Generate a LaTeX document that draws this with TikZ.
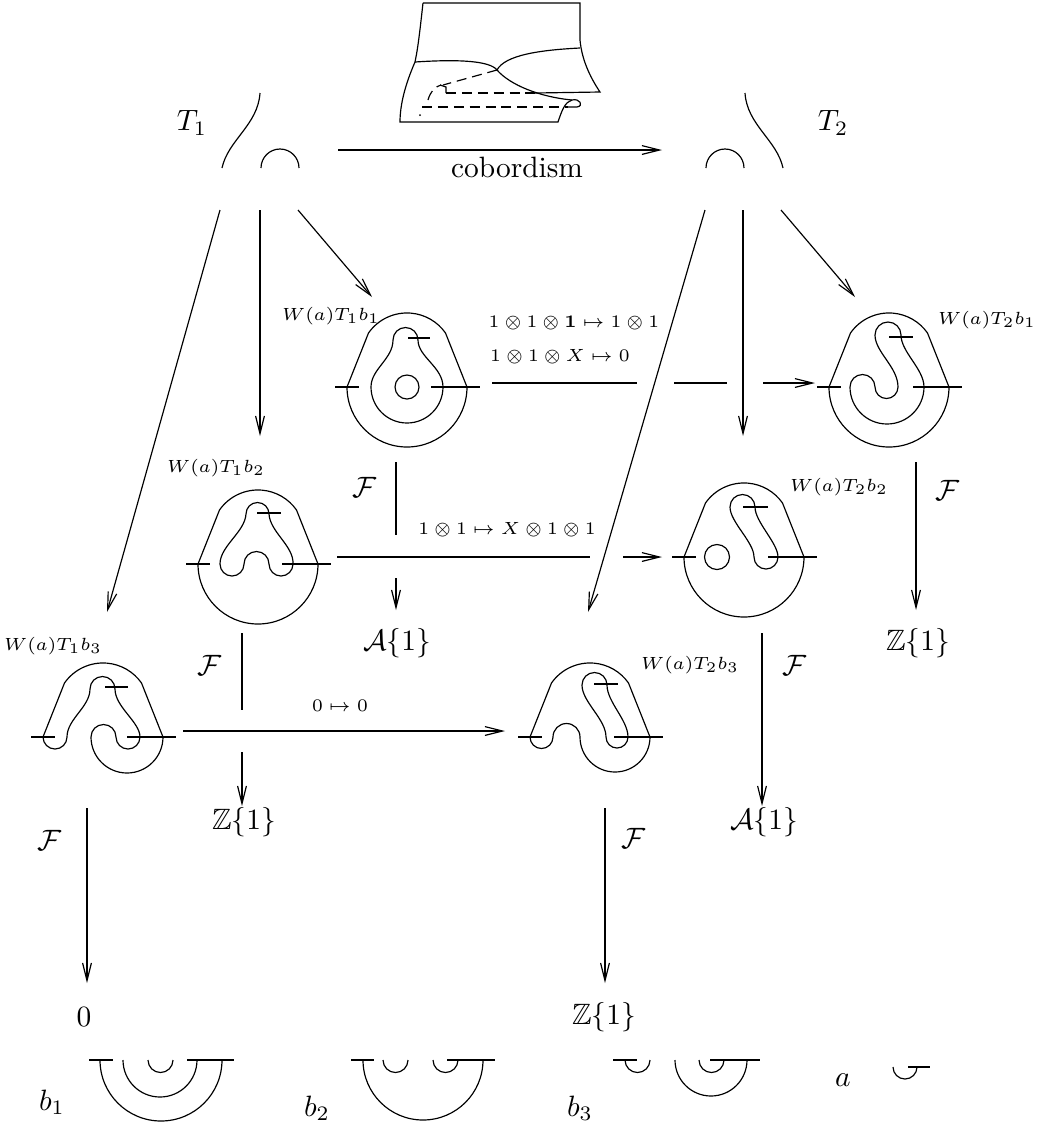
\documentclass[tikz,border=0pt]{standalone}
\usepackage{amsmath}
\usepackage{amssymb}
\usepackage{tikz}
\usetikzlibrary{arrows.meta}

\begin{document}
\begin{tikzpicture}[
    x=0.34pt, y=-0.34pt,
    line width=0.4pt,
    arrow/.style={-{Straight Barb[length=6pt,width=3pt]}},
    hidden/.style={dash pattern=on 3.4pt off 2pt},
    wlabel/.style={font=\fontsize{6}{7}\selectfont, inner sep=0pt},
    maplabel/.style={font=\fontsize{6}{7}\selectfont, inner sep=0pt},
    result/.style={inner sep=1pt},
    wframe/.pic={
        \draw (-60,0) -- (-38.5,-54) arc[start angle=215, end angle=325, radius=47] -- (60,0);
        \draw (-72,0) -- (-48,0);
        \draw (24,0) -- (73,0);
    }
]
\useasboundingbox (0,0) rectangle (1039,1125);

% tangles T1 and T2
\node (T1) at (192,123) {$T_1$};
\node (T2) at (833,123) {$T_2$};
\draw (222,168) .. controls (228,140) and (258,125) .. (260,93);
\draw (261,168) arc[start angle=180, end angle=360, radius=19];
\draw (745,93) .. controls (747,125) and (777,140) .. (783,168);
\draw (706,168) arc[start angle=180, end angle=360, radius=19];

% saddle cobordism
\draw (423,3) -- (580,3) -- (580,40) .. controls (582,62) and (592,80) .. (600,92) -- (535,93);
\draw (423,3) .. controls (420,30) and (418,48) .. (415,62);
\draw (415,62) .. controls (460,59) and (490,61) .. (497,70);
\draw (497,70) .. controls (505,55) and (540,50) .. (580,48);
\draw (497,70) .. controls (510,85) and (540,97) .. (572,100);
\draw (415,62) .. controls (405,85) and (400,105) .. (400,122) -- (558,122)
    .. controls (562,110) and (565,102) .. (572,100)
    .. controls (580,98) and (584,106) .. (577,107) -- (568,107);
\draw[hidden] (497,70) -- (443,85);
\draw (440,85) -- (446,87) -- (446,93);
\draw[hidden] (446,93) -- (535,93);
\draw[hidden] (428,100) .. controls (430,92) and (436,86) .. (441,85);
\draw[hidden] (422,107) -- (568,107);
\fill (420,115) circle (1);

\coordinate (cobs) at (338,150);
\coordinate (cobe) at (662,150);
\draw[arrow] (cobs) -- (cobe);
\node (cob) at (517,167) {cobordism};

% arrows out of T1 and T2
\coordinate (t1a) at (220,210); \coordinate (w13in) at (107,612);
\coordinate (t1b) at (260,210); \coordinate (t1end) at (260,436);
\coordinate (t1c) at (298,210); \coordinate (w11in) at (372,297);
\coordinate (t2a) at (705,210); \coordinate (w23in) at (588,612);
\coordinate (t2b) at (743,210); \coordinate (t2end) at (743,436);
\coordinate (t2c) at (781,210); \coordinate (w21in) at (855,297);
\draw[arrow] (t1a) -- (w13in);
\draw[arrow] (t1b) -- (t1end);
\draw[arrow] (t1c) -- (w11in);
\draw[arrow] (t2a) -- (w23in);
\draw[arrow] (t2b) -- (t2end);
\draw[arrow] (t2c) -- (w21in);

% W(a)T1b1
\begin{scope}[shift={(407,387)}]
\pic {wframe};
\draw (60,0) arc[start angle=0, end angle=180, radius=60];
\draw (36,0) arc[start angle=0, end angle=180, radius=36]
    .. controls (-36,-18) and (-14,-28) .. (-14,-47)
    arc[start angle=180, end angle=360, radius=12.5]
    .. controls (11,-30) and (36,-20) .. (36,0);
\draw (0,0) circle (12);
\draw (1,-49) -- (23,-49);
\end{scope}
\node[wlabel] (w11) at (331,316) {$W(a)T_1b_1$};

% W(a)T2b1
\begin{scope}[shift={(889,387)}]
\pic {wframe};
\draw (60,0) arc[start angle=0, end angle=180, radius=60];
\draw (-39,0) arc[start angle=180, end angle=0, radius=37]
    .. controls (35,-18) and (12,-35) .. (12,-52)
    arc[start angle=0, end angle=-180, radius=13]
    .. controls (-14,-35) and (9,-20) .. (9,0)
    arc[start angle=0, end angle=180, radius=11.5]
    arc[start angle=0, end angle=-180, radius=12.5];
\draw (0,-50) -- (24,-50);
\end{scope}
\node[wlabel] (w21) at (987,320) {$W(a)T_2b_1$};

% W(a)T1b2
\begin{scope}[shift={(258,564)}]
\pic {wframe};
\draw (60,0) arc[start angle=0, end angle=180, radius=60];
\draw (-38,0) arc[start angle=180, end angle=0, radius=12]
    arc[start angle=180, end angle=360, radius=12.5]
    arc[start angle=180, end angle=0, radius=12]
    .. controls (36,-18) and (12,-32) .. (11,-50)
    arc[start angle=0, end angle=-180, radius=11.5]
    .. controls (-13,-32) and (-38,-18) .. (-38,0);
\draw (-1,-51) -- (23,-51);
\end{scope}
\node[wlabel] (w12) at (216,468) {$W(a)T_1b_2$};

% W(a)T2b2
\begin{scope}[shift={(744,557)}]
\pic {wframe};
\draw (60,0) arc[start angle=0, end angle=180, radius=60];
\draw (-27,0) circle (12.5);
\draw (10,0) arc[start angle=180, end angle=0, radius=12]
    .. controls (34,-14) and (11,-35) .. (11,-50)
    arc[start angle=0, end angle=-180, radius=12.5]
    .. controls (-14,-35) and (10,-15) .. (10,0);
\draw (-1,-50) -- (24,-50);
\end{scope}
\node[wlabel] (w22) at (839,487) {$W(a)T_2b_2$};

% W(a)T1b3
\begin{scope}[shift={(103,737)}]
\pic {wframe};
\draw (60,0) arc[start angle=0, end angle=180, radius=36]
    arc[start angle=180, end angle=360, radius=12.5]
    arc[start angle=180, end angle=0, radius=12]
    .. controls (37,-15) and (12,-30) .. (12,-48)
    arc[start angle=0, end angle=-180, radius=12.5]
    .. controls (-13,-30) and (-36,-18) .. (-36,0)
    arc[start angle=0, end angle=180, radius=12];
\draw (2,-50) -- (25,-50);
\end{scope}
\node[wlabel] (w13) at (53,646) {$W(a)T_1b_3$};

% W(a)T2b3
\begin{scope}[shift={(590,737)}]
\pic {wframe};
\draw (60,0) arc[start angle=0, end angle=180, radius=35]
    arc[start angle=0, end angle=-180, radius=13.5]
    arc[start angle=0, end angle=180, radius=11.5];
\draw (16,0) arc[start angle=180, end angle=0, radius=11]
    .. controls (38,-17) and (17,-35) .. (17,-52)
    arc[start angle=0, end angle=-180, radius=12.5]
    .. controls (-8,-35) and (16,-18) .. (16,0);
\draw (4,-53) -- (28,-53);
\end{scope}
\node[wlabel] (w23) at (690,665) {$W(a)T_2b_3$};

% maps between the diagrams
\coordinate (h1a) at (492,383); \coordinate (h1b) at (637,383);
\coordinate (h1c) at (674,383); \coordinate (h1d) at (727,383);
\coordinate (h1e) at (763,383); \coordinate (h1f) at (815,383);
\draw (h1a) -- (h1b);
\draw (h1c) -- (h1d);
\draw[arrow] (h1e) -- (h1f);
\node[maplabel] (m1) at (574,323) {$1\otimes 1\otimes \mathbf{1}\mapsto 1\otimes 1$};
\node[maplabel] (m2) at (560,357) {$1\otimes 1\otimes X\mapsto 0$};

\coordinate (h2a) at (337,557); \coordinate (h2b) at (590,557);
\coordinate (h2c) at (623,557); \coordinate (h2d) at (662,557);
\draw (h2a) -- (h2b);
\draw[arrow] (h2c) -- (h2d);
\node[maplabel] (m3) at (507,530) {$1\otimes 1\mapsto X\otimes 1\otimes 1$};

\coordinate (h3a) at (183,731); \coordinate (h3b) at (505,731);
\draw[arrow] (h3a) -- (h3b);
\node[maplabel] (m4) at (340,706) {$0\mapsto 0$};

% the functor F
\coordinate (f1a) at (396,462); \coordinate (f1b) at (396,535);
\coordinate (f1c) at (396,578); \coordinate (f1d) at (396,610);
\draw (f1a) -- (f1b);
\draw[arrow] (f1c) -- (f1d);
\node (F1) at (365,487) {$\mathcal{F}$};
\node[result] (r1) at (397,643) {$\mathcal{A}\{1\}$};

\coordinate (f2a) at (916,462); \coordinate (f2b) at (916,610);
\draw[arrow] (f2a) -- (f2b);
\node (F2) at (948,490) {$\mathcal{F}$};
\node[result] (r2) at (918,643) {$\mathbb{Z}\{1\}$};

\coordinate (f3a) at (242,633); \coordinate (f3b) at (242,710);
\coordinate (f3c) at (242,752); \coordinate (f3d) at (242,806);
\draw (f3a) -- (f3b);
\draw[arrow] (f3c) -- (f3d);
\node (F3) at (210,665) {$\mathcal{F}$};
\node[result] (r3) at (244,822) {$\mathbb{Z}\{1\}$};

\coordinate (f4a) at (762,633); \coordinate (f4b) at (762,806);
\draw[arrow] (f4a) -- (f4b);
\node (F4) at (795,665) {$\mathcal{F}$};
\node[result] (r4) at (764,822) {$\mathcal{A}\{1\}$};

\coordinate (f5a) at (87,808); \coordinate (f5b) at (87,983);
\draw[arrow] (f5a) -- (f5b);
\node (F5) at (50,840) {$\mathcal{F}$};
\node[result] (r5) at (84,1017) {$0$};

\coordinate (f6a) at (605,808); \coordinate (f6b) at (605,983);
\draw[arrow] (f6a) -- (f6b);
\node (F6) at (634,838) {$\mathcal{F}$};
\node[result] (r6) at (604,1017) {$\mathbb{Z}\{1\}$};

% the crossingless matchings b1, b2, b3 and a
\node (b1) at (52,1102) {$b_1$};
\draw (89,1060) -- (113,1060);
\draw (187,1060) -- (234,1060);
\draw (100,1060) arc[start angle=180, end angle=0, radius=61];
\draw (123,1060) arc[start angle=180, end angle=0, radius=37];
\draw (148,1060) arc[start angle=180, end angle=0, radius=12.5];

\node (b2) at (317,1108) {$b_2$};
\draw (351,1060) -- (374,1060);
\draw (447,1060) -- (495,1060);
\draw (363,1060) arc[start angle=180, end angle=0, radius=60];
\draw (383,1060) arc[start angle=180, end angle=0, radius=12.5];
\draw (433,1060) arc[start angle=180, end angle=0, radius=12.5];

\node (b3) at (580,1108) {$b_3$};
\draw (613,1060) -- (637,1060);
\draw (710,1060) -- (760,1060);
\draw (625,1060) arc[start angle=180, end angle=0, radius=12.5];
\draw (675,1060) arc[start angle=180, end angle=0, radius=36];
\draw (699,1060) arc[start angle=180, end angle=0, radius=12.5];

\node (a) at (843,1080) {$a$};
\draw (908,1067) -- (930,1067);
\draw (893,1067) arc[start angle=180, end angle=0, radius=12];

\end{tikzpicture}
\end{document}
